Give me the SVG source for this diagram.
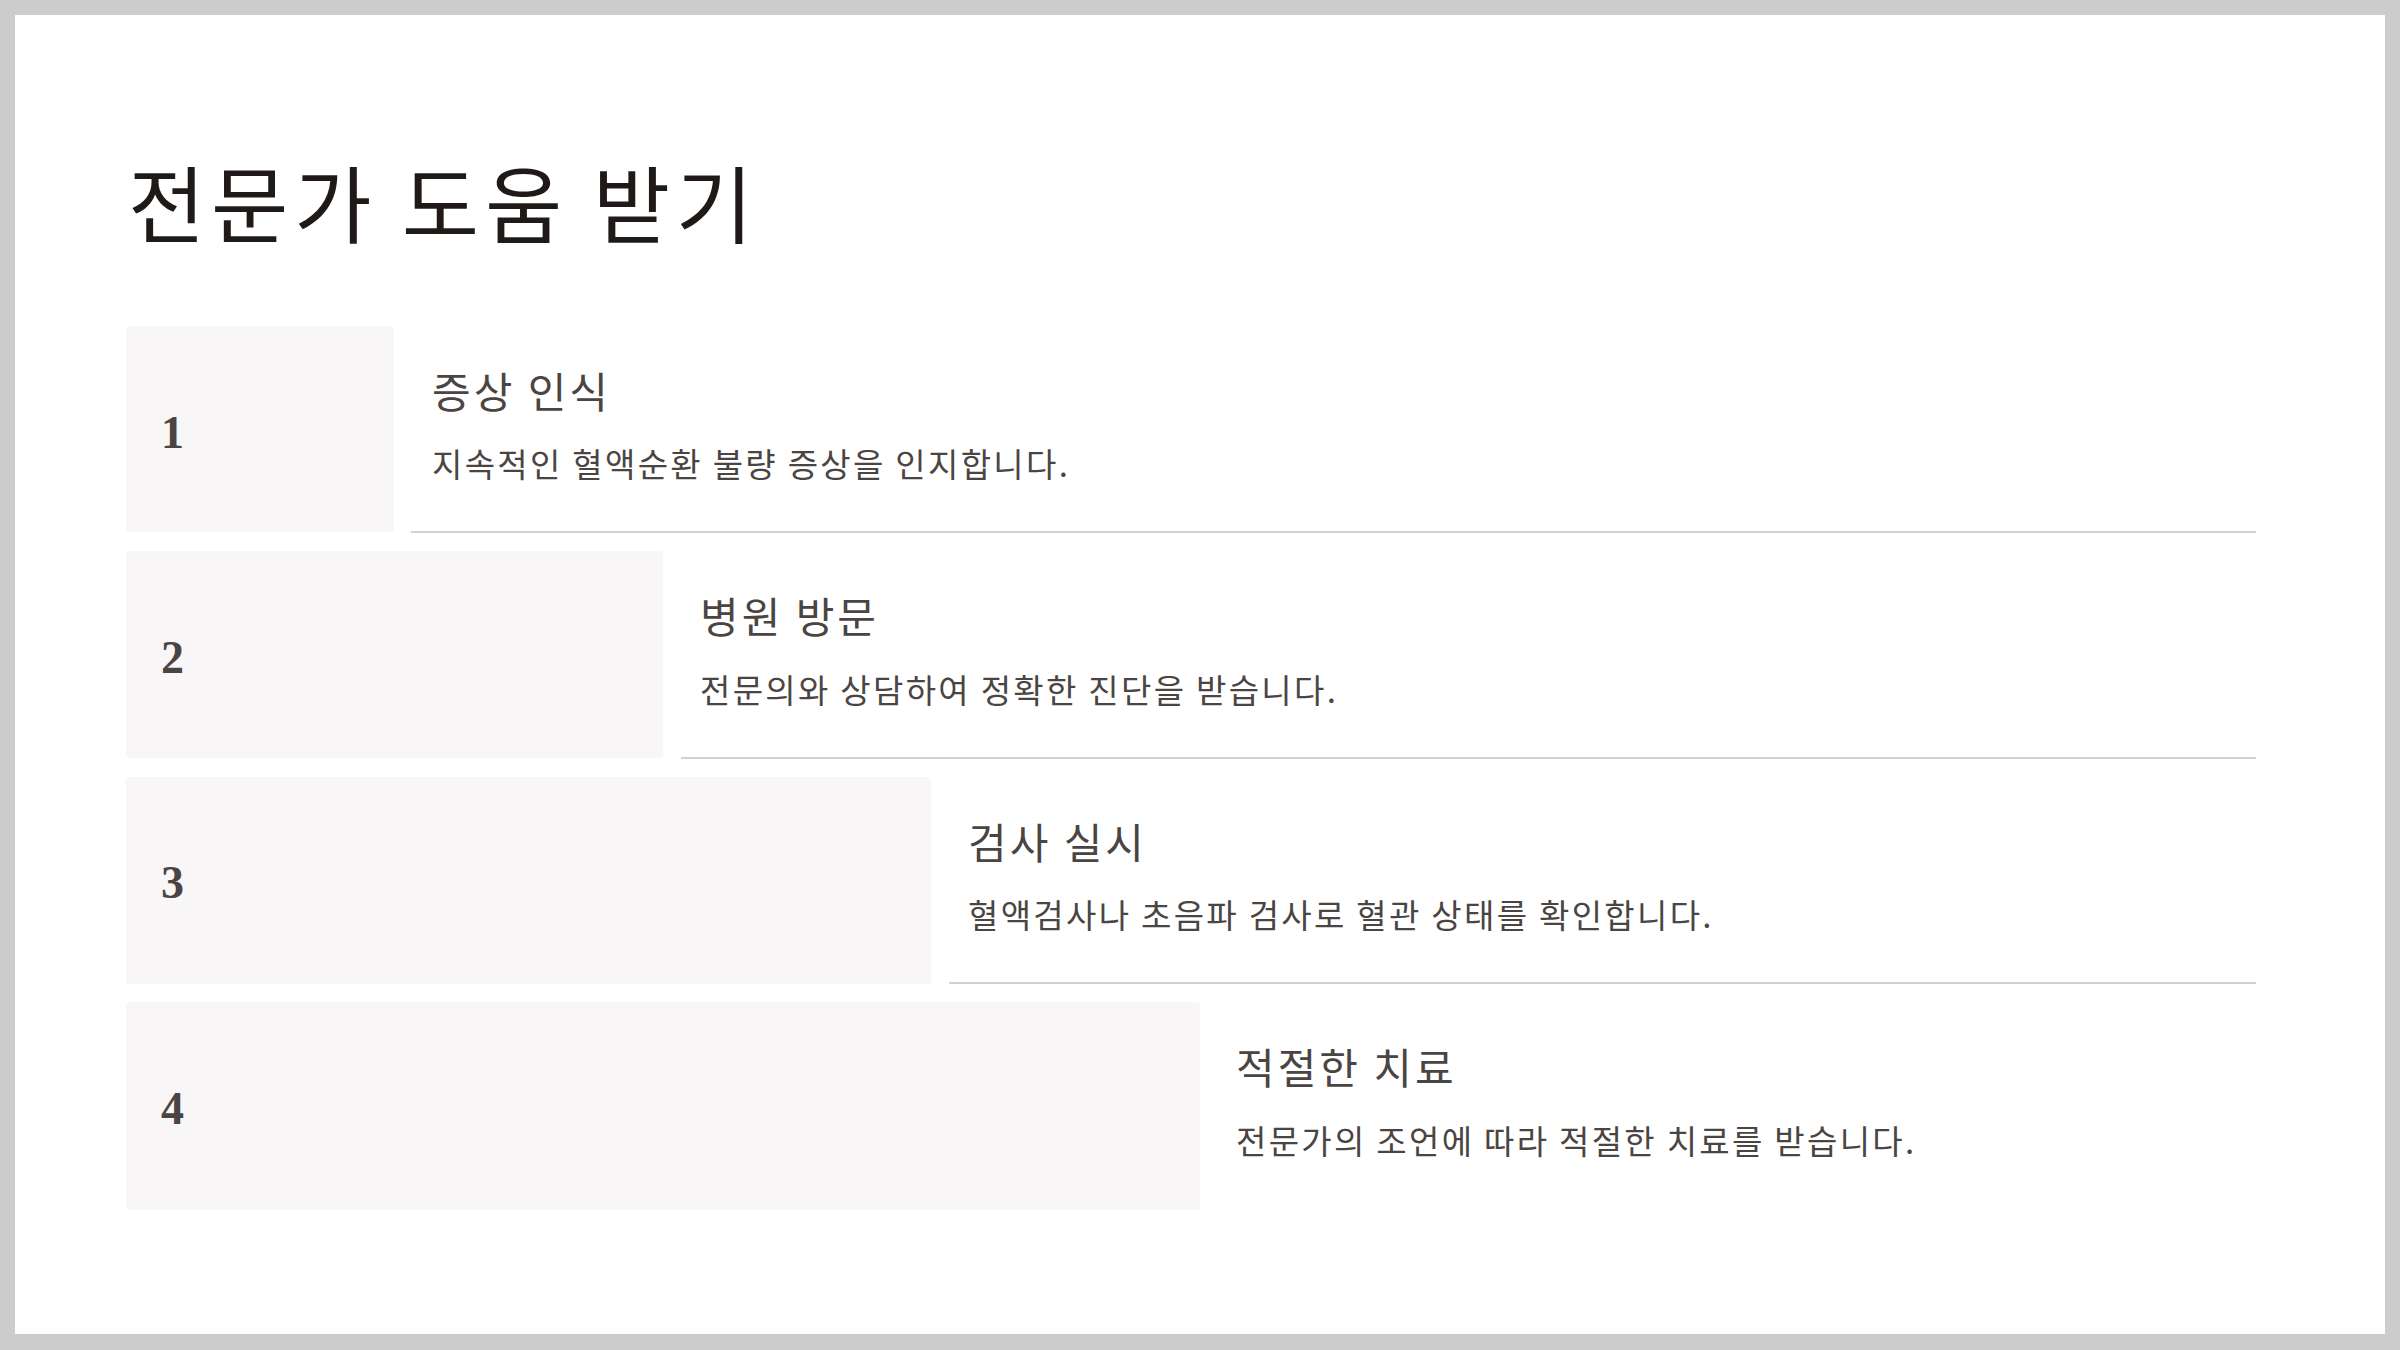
<svg xmlns="http://www.w3.org/2000/svg" width="2400" height="1350" viewBox="0 0 2400 1350">
<style>
.title{font-family:"Noto Sans CJK KR","Noto Sans",sans-serif;font-size:84px;letter-spacing:5.8px;fill:#1f1a17}
.box{fill:#f8f6f6}
.num{font-family:"Liberation Serif","DejaVu Serif",serif;font-size:46px;font-weight:bold;fill:#4a4543}
.head{font-family:"Noto Sans CJK KR","Noto Sans",sans-serif;font-size:42px;letter-spacing:3px;fill:#4a4543}
.desc{font-family:"Noto Sans CJK KR","Noto Sans",sans-serif;font-size:33px;letter-spacing:2.3px;fill:#4a4543}
.rule{stroke:#d6d1d1;stroke-width:2}
</style>
<rect x="0" y="0" width="2400" height="1350" fill="#cccccc"/>
<rect x="15" y="15" width="2370" height="1319" fill="#ffffff"/>
<text class="title" x="128" y="237">전문가 도움 받기</text>
<g id="connectors">
<line class="rule" x1="411" y1="532" x2="2256" y2="532"/>
<line class="rule" x1="681" y1="758" x2="2256" y2="758"/>
<line class="rule" x1="949" y1="983" x2="2256" y2="983"/>
</g>
<g id="step1">
<rect class="box" x="126" y="326" width="268" height="206" rx="4"/>
<text class="num" x="161" y="448">1</text>
<text class="head" x="432" y="408">증상 인식</text>
<text class="desc" x="432" y="477">지속적인 혈액순환 불량 증상을 인지합니다.</text>
</g>
<g id="step2">
<rect class="box" x="126" y="551" width="537" height="207" rx="4"/>
<text class="num" x="161" y="673">2</text>
<text class="head" x="700" y="633">병원 방문</text>
<text class="desc" x="700" y="703">전문의와 상담하여 정확한 진단을 받습니다.</text>
</g>
<g id="step3">
<rect class="box" x="126" y="777" width="805" height="207" rx="4"/>
<text class="num" x="161" y="898">3</text>
<text class="head" x="968" y="859">검사 실시</text>
<text class="desc" x="968" y="928">혈액검사나 초음파 검사로 혈관 상태를 확인합니다.</text>
</g>
<g id="step4">
<rect class="box" x="126" y="1002" width="1074" height="208" rx="4"/>
<text class="num" x="161" y="1124">4</text>
<text class="head" x="1236" y="1084">적절한 치료</text>
<text class="desc" x="1236" y="1154">전문가의 조언에 따라 적절한 치료를 받습니다.</text>
</g>
</svg>
